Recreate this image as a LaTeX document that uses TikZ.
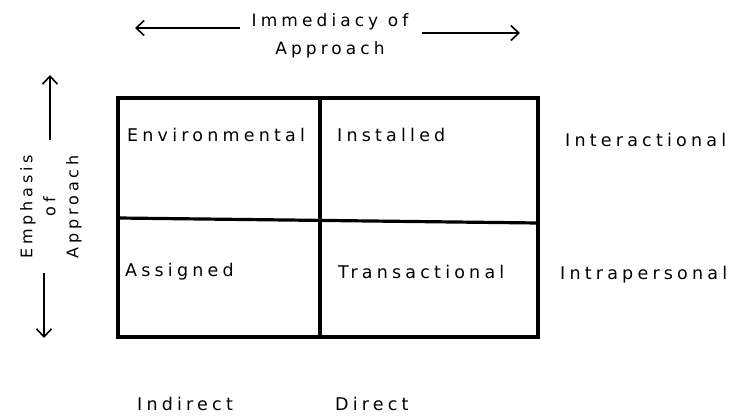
\documentclass[tikz,border=0pt]{standalone}
\usepackage{fontspec}
\setmainfont{DejaVu Sans}[LetterSpace=24]
\usetikzlibrary{arrows.meta}

\begin{document}
\begin{tikzpicture}[x=1pt,y=-1pt,
    lbl/.style={font=\fontsize{17.5}{19}\selectfont,inner sep=0pt},
    arr/.style={line width=1.6pt,-{Straight Barb[length=8pt,width=15pt,line width=1.6pt]}},
    grid/.style={line width=3.2pt}]
    \useasboundingbox (0,0) rectangle (736,419);
    % the two-by-two frame
    \draw [grid] (118,98) rectangle (538,337);
    \draw [grid] (320,98) -- (320,337);
    \draw [grid] (118,218) -- (538,223);
    \path (127,135) node [lbl,anchor=west] (env) {Environmental};
    \path (337,135) node [lbl,anchor=west] (inst) {Installed};
    \path (125,272) node [lbl,anchor=west] (asg) {Assigned};
    \path (338,272) node [lbl,anchor=west] (trans) {Transactional};
    \path (565,140) node [lbl,anchor=west] (interact) {Interactional};
    \path (560,275) node [lbl,anchor=west] (intrap) {Intrapersonal};
    \path (137,404) node [lbl,anchor=west] (indir) {Indirect};
    \path (335,404) node [lbl,anchor=west] (dir) {Direct};
    % axis labels
    \path (330,36) node [lbl,align=center,font=\fontsize{17}{28}\selectfont] (imm) {Immediacy of\\Approach};
    \path (51,207) node [lbl,align=center,rotate=90,font=\fontsize{16}{23}\selectfont] (emph) {Emphasis\\of\\Approach};
    \coordinate (immls) at (240,28);
    \coordinate (immle) at (135,28);
    \coordinate (immrs) at (422,33);
    \coordinate (immre) at (520,33);
    \coordinate (emphus) at (50,140);
    \coordinate (emphue) at (50,75);
    \coordinate (emphds) at (44,273);
    \coordinate (emphde) at (44,338);
    \draw [arr] (immls) -- (immle);
    \draw [arr] (immrs) -- (immre);
    \draw [arr] (emphus) -- (emphue);
    \draw [arr] (emphds) -- (emphde);
\end{tikzpicture}
\end{document}
